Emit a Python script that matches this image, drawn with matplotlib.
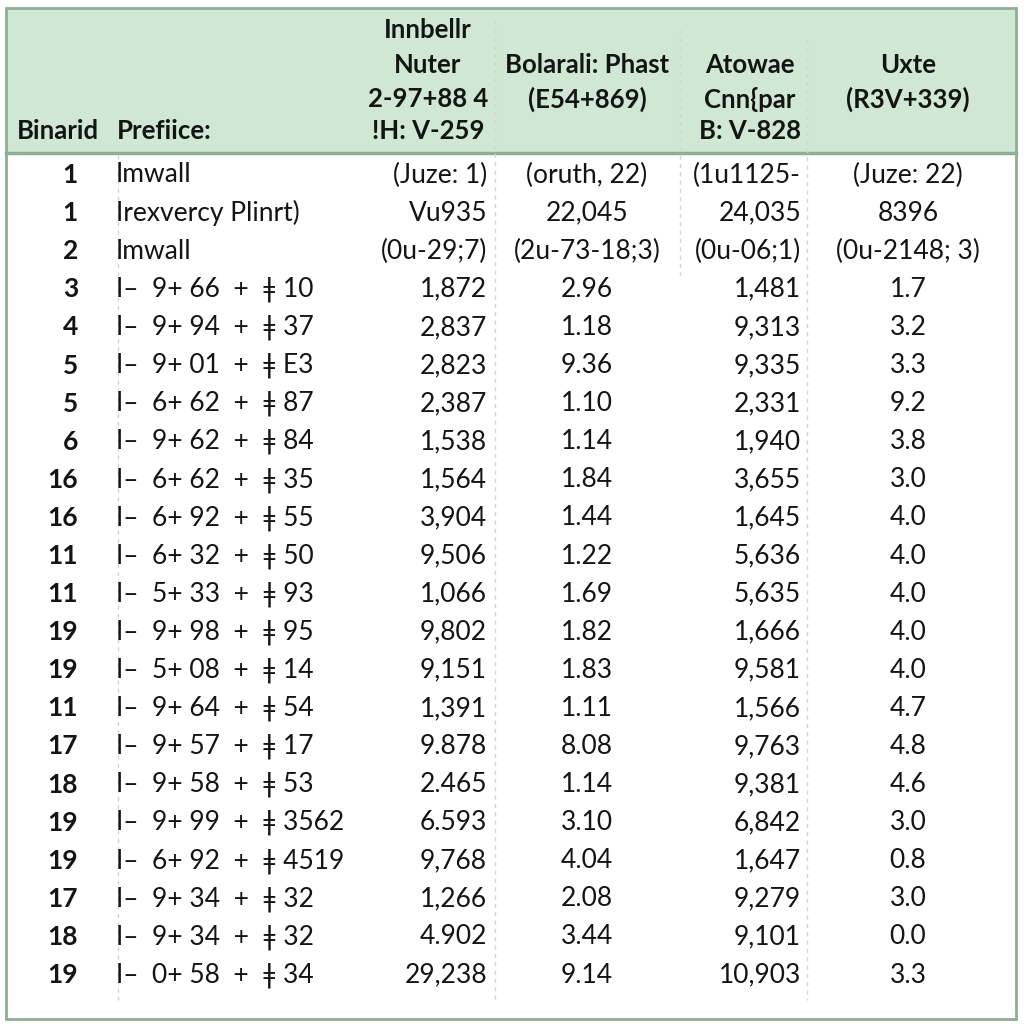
import matplotlib.pyplot as plt
from matplotlib.patches import Rectangle

plt.rcParams['font.family'] = ['Lato', 'DejaVu Sans']

row_ids = ['1', '1', '2', '3', '4', '5', '5', '6', '16', '16', '11', '11',
           '19', '19', '11', '17', '18', '19', '19', '17', '18', '19']
prefixes = ['Imwall', 'Irexvercy Plinrt)', 'Imwall',
            'I\u2013  9+ 66  +  \u01c2 10', 'I\u2013  9+ 94  +  \u01c2 37',
            'I\u2013  9+ 01  +  \u01c2 E3', 'I\u2013  6+ 62  +  \u01c2 87',
            'I\u2013  9+ 62  +  \u01c2 84', 'I\u2013  6+ 62  +  \u01c2 35',
            'I\u2013  6+ 92  +  \u01c2 55', 'I\u2013  6+ 32  +  \u01c2 50',
            'I\u2013  5+ 33  +  \u01c2 93', 'I\u2013  9+ 98  +  \u01c2 95',
            'I\u2013  5+ 08  +  \u01c2 14', 'I\u2013  9+ 64  +  \u01c2 54',
            'I\u2013  9+ 57  +  \u01c2 17', 'I\u2013  9+ 58  +  \u01c2 53',
            'I\u2013  9+ 99  +  \u01c2 3562', 'I\u2013  6+ 92  +  \u01c2 4519',
            'I\u2013  9+ 34  +  \u01c2 32', 'I\u2013  9+ 34  +  \u01c2 32',
            'I\u2013  0+ 58  +  \u01c2 34']
col_inner = ['(Juze: 1)', 'Vu935', '(0u-29;7)', '1,872', '2,837', '2,823',
             '2,387', '1,538', '1,564', '3,904', '9,506', '1,066', '9,802',
             '9,151', '1,391', '9.878', '2.465', '6.593', '9,768', '1,266',
             '4.902', '29,238']
col_phast = ['(oruth, 22)', '22,045', '(2u-73-18;3)', '2.96', '1.18', '9.36',
             '1.10', '1.14', '1.84', '1.44', '1.22', '1.69', '1.82', '1.83',
             '1.11', '8.08', '1.14', '3.10', '4.04', '2.08', '3.44', '9.14']
col_atowae = ['(1u1125-', '24,035', '(0u-06;1)', '1,481', '9,313', '9,335',
              '2,331', '1,940', '3,655', '1,645', '5,636', '5,635', '1,666',
              '9,581', '1,566', '9,763', '9,381', '6,842', '1,647', '9,279',
              '9,101', '10,903']
col_uxte = ['(Juze: 22)', '8396', '(0u-2148; 3)', '1.7', '3.2', '3.3', '9.2',
            '3.8', '3.0', '4.0', '4.0', '4.0', '4.0', '4.0', '4.7', '4.8',
            '4.6', '3.0', '0.8', '3.0', '0.0', '3.3']

headers = [
    (['Binarid'], 17, 'left'),
    (['Prefiice:'], 117, 'left'),
    (['Innbellr', 'Nuter', '2-97+88 4', '!H: V-259'], 428, 'center'),
    (['Bolarali: Phast', '(E54+869)', '', ''], 587, 'center'),
    (['Atowae', 'Cnn{par', 'B: V-828', ''], 750, 'center'),
    (['Uxte', '(R3V+339)', '', ''], 908, 'center'),
]

fig = plt.figure(figsize=(10.24, 10.24), dpi=100)
ax = fig.add_axes([0, 0, 1, 1])
ax.set_xlim(0, 1024)
ax.set_ylim(1024, 0)
ax.axis('off')

txt = '#141414'
border = '#8fae92'
dash = '#d4d4d4'

# header band and frame
ax.add_patch(Rectangle((6, 8), 1010, 145, facecolor='#cfe7d3', edgecolor='none'))
ax.add_patch(Rectangle((6, 8), 1010, 1011, facecolor='none', edgecolor=border, lw=2))
ax.plot([6, 1016], [153, 153], color=border, lw=2.5)

# dashed separators
ax.plot([118, 118], [155, 1000], color=dash, lw=1, ls=(0, (3, 3)))
ax.plot([495, 495], [20, 1000], color=dash, lw=1, ls=(0, (3, 3)))
ax.plot([680, 680], [30, 275], color=dash, lw=1, ls=(0, (3, 3)))
ax.plot([807, 807], [40, 1000], color=dash, lw=1, ls=(0, (3, 3)))

# header text
line_y = [30, 65, 99, 131]
for lines, x, ha in headers:
    if len(lines) == 1:
        ys = [line_y[-1]]
    elif lines[-1] == '' and lines[-2] == '':
        ys = line_y[1:3]
        lines = lines[:2]
    elif lines[-1] == '':
        ys = line_y[1:]
        lines = lines[:3]
    else:
        ys = line_y
    for s, y in zip(lines, ys):
        ax.text(x, y, s, ha=ha, va='center', fontsize=18.5,
                fontweight='bold', color=txt)

# body rows
fs = 19
y0, step = 175, 38.1
for i in range(len(row_ids)):
    y = y0 + i * step
    ax.text(78, y, row_ids[i], ha='right', va='center', fontsize=fs,
            fontweight='bold', color=txt)
    ax.text(116, y, prefixes[i], ha='left', va='center', fontsize=fs, color=txt)
    ax.text(487, y, col_inner[i], ha='right', va='center', fontsize=fs, color=txt)
    ax.text(587, y, col_phast[i], ha='center', va='center', fontsize=fs, color=txt)
    ax.text(801, y, col_atowae[i], ha='right', va='center', fontsize=fs, color=txt)
    ax.text(908, y, col_uxte[i], ha='center', va='center', fontsize=fs, color=txt)

fig.savefig('out.png', dpi=100, facecolor='white')
